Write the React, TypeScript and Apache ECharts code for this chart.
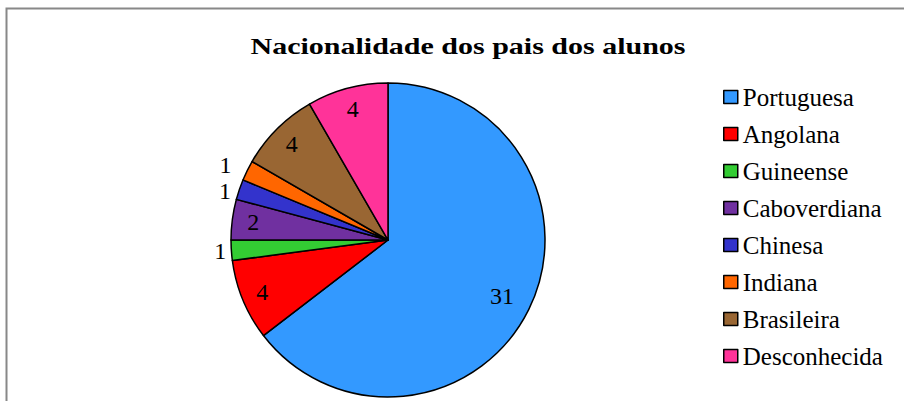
import React, { useEffect, useRef } from "react";
import * as echarts from "echarts";

const titleText = "Nacionalidade dos pais dos alunos";
const categories = ["Portuguesa", "Angolana", "Guineense", "Caboverdiana", "Chinesa", "Indiana", "Brasileira", "Desconhecida"];
const values = [31, 4, 1, 2, 1, 1, 4, 4];
const colors = ["#3399FF", "#FF0000", "#33CC33", "#7030A0", "#3333CC", "#FF6600", "#996633", "#FF3399"];
const outsideLabel = [false, false, true, false, true, true, false, false];

const FONT = "Liberation Serif";

export default function App() {
  const ref = useRef<HTMLDivElement>(null);
  useEffect(() => {
    if (!ref.current) return;
    const chart = echarts.init(ref.current, null, { renderer: "svg" });
    const center = [388, 240];
    const mainData = categories.map((name, i) => ({
      name,
      value: values[i],
      itemStyle: { color: colors[i] },
      label: { show: outsideLabel[i] },
      labelLine: { show: false, length: name === "Indiana" ? 12 : 5, length2: 0 },
    }));
    const overlay = (radius: number, pick: (i: number) => boolean) => ({
      type: "pie",
      silent: true,
      center,
      radius: [0, radius],
      startAngle: 90,
      clockwise: true,
      avoidLabelOverlap: false,
      itemStyle: { color: "rgba(0,0,0,0)", borderWidth: 0 },
      labelLine: { show: false },
      label: { position: "inside", fontSize: 24, fontFamily: FONT, color: "#000", formatter: "{c}" },
      labelLayout: { hideOverlap: false },
      data: categories.map((name, i) => ({
        name: "lbl-" + name,
        value: values[i],
        label: { show: pick(i) },
      })),
      z: 3,
    });
    chart.setOption({
      animation: false,
      textStyle: { fontFamily: FONT },
      legend: {
        orient: "vertical",
        left: 723,
        top: 84,
        padding: 0,
        icon: "rect",
        itemWidth: 14,
        itemHeight: 13,
        itemGap: 11,
        data: categories,
        itemStyle: { borderColor: "#000", borderWidth: 1.5 },
        textStyle: { fontFamily: FONT, fontSize: 25, color: "#000", lineHeight: 26 },
        selectedMode: false,
      },
      graphic: [
        {
          type: "rect",
          shape: { x: 6.5, y: 8.5, width: 1000, height: 600 },
          style: { fill: "none", stroke: "#888", lineWidth: 2 },
          silent: true,
        },
        {
          type: "text",
          x: 468,
          y: 46,
          scaleX: 1.25,
          style: {
            text: titleText,
            font: "bold 24px Liberation Serif",
            fill: "#000",
            align: "center",
            verticalAlign: "middle",
          },
          silent: true,
        },
      ],
      series: [
        {
          type: "pie",
          center,
          radius: [0, 157],
          startAngle: 90,
          clockwise: true,
          avoidLabelOverlap: true,
          itemStyle: { borderColor: "#000", borderWidth: 1.5 },
          label: {
            position: "outside",
            fontSize: 24,
            fontFamily: FONT,
            color: "#000",
            formatter: "{c}",
            distanceToLabelLine: 5,
          },
          labelLine: { show: false, length: 5, length2: 0 },
          labelLayout: { hideOverlap: false },
          emphasis: { disabled: true },
          data: mainData,
          z: 2,
        },
        overlay(266, (i) => i !== 0 && !outsideLabel[i]),
        overlay(248, (i) => i === 0),
      ],
    });
    return () => chart.dispose();
  }, []);
  return <div ref={ref} style={{ position: "absolute", left: 0, top: 0, width: 904, height: 401 }} />;
}
